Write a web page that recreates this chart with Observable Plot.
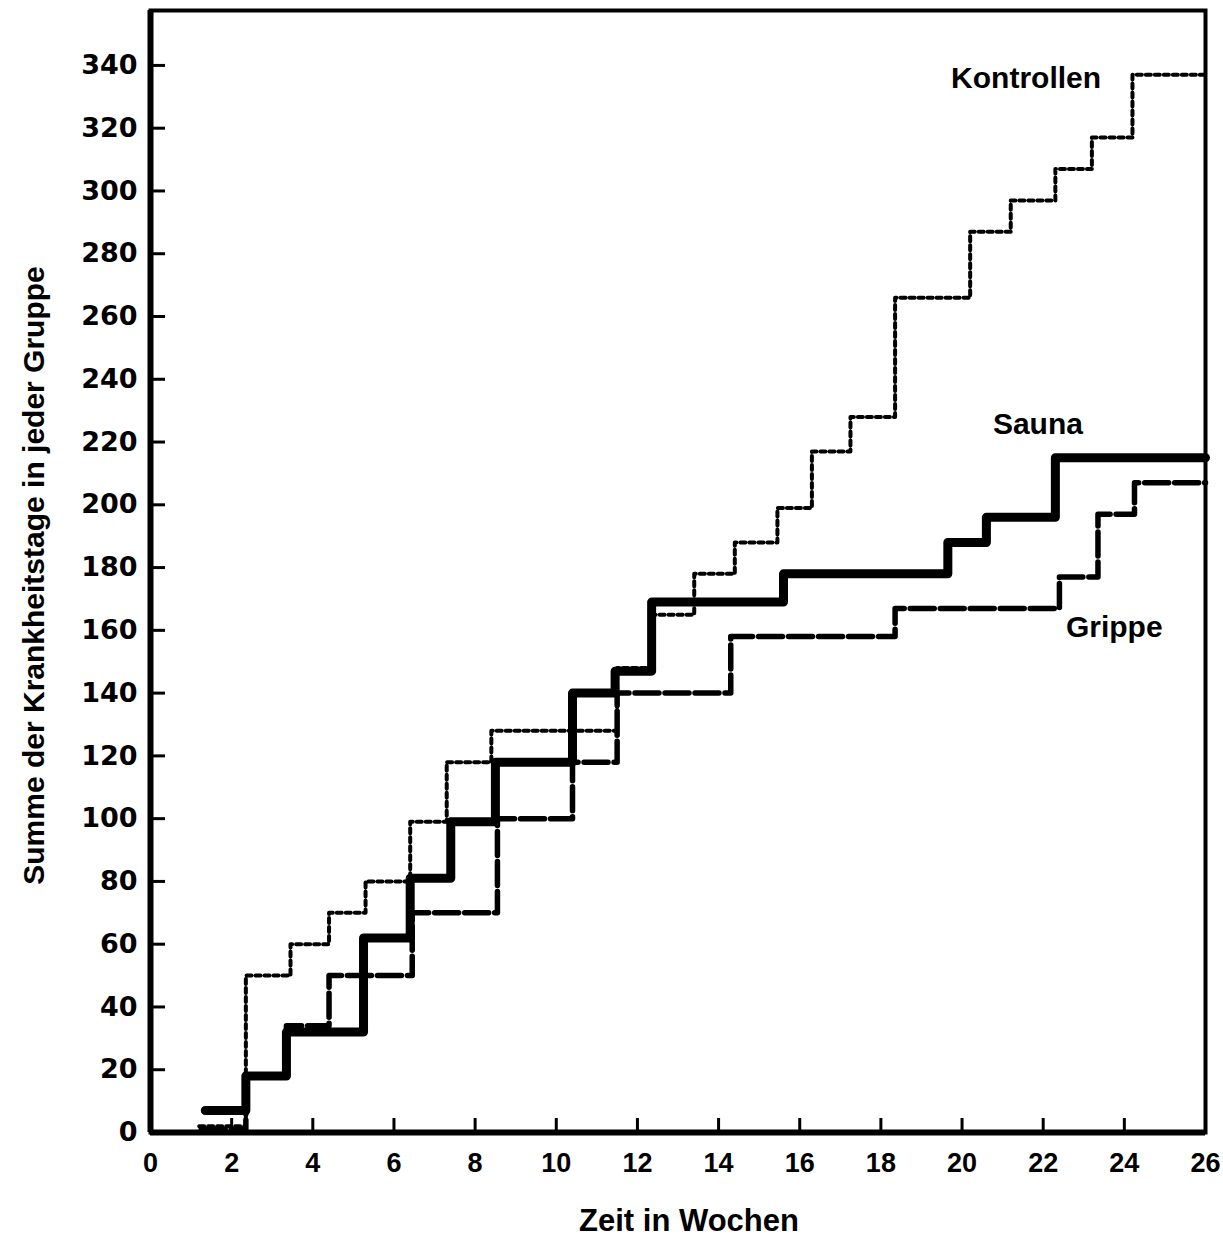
<!DOCTYPE html>
<html>
<head>
<meta charset="utf-8">
<script src="https://cdn.jsdelivr.net/npm/d3@7"></script>
<script src="https://cdn.jsdelivr.net/npm/@observablehq/plot@0.6"></script>
<style>
  html, body { margin: 0; padding: 0; background: #fff; }
  #chart svg { display: block; }
</style>
</head>
<body>
<div id="chart"></div>
<script>
// ---- data ----
const kontrollenWeeks  = [1.2, 2.35, 3.45, 4.4, 5.3, 6.4, 7.3, 8.4, 11.5, 12.4, 13.4, 14.4, 15.45, 16.3, 17.25, 18.35, 20.2, 21.2, 22.3, 23.2, 24.2, 26];
const kontrollenValues = [2,   50,   60,   70,  80,  99,  118, 128, 148,  165,  178,  188,  199,   217,  228,   266,   287,  297,  307,  317,  337,  337];

const saunaWeeks  = [1.35, 2.35, 3.35, 5.25, 6.4, 7.4, 8.5, 10.4, 11.45, 12.35, 15.6, 19.65, 20.6, 22.3, 26];
const saunaValues = [7,    18,   32,   62,   81,  99,  118, 140,  147,   169,   178,  188,   196,  215,  215];

const grippeWeeks  = [1.25, 2.35, 3.35, 4.4, 6.45, 8.55, 10.4, 11.5, 14.3, 18.35, 22.4, 23.35, 24.25, 26];
const grippeValues = [1,    18,   34,   50,  70,   100,  118,  140,  158,  167,   177,  197,   207,   207];

const xTicks = [0, 2, 4, 6, 8, 10, 12, 14, 16, 18, 20, 22, 24, 26];
const yTicks = [0, 20, 40, 60, 80, 100, 120, 140, 160, 180, 200, 220, 240, 260, 280, 300, 320, 340];

const seriesLabels = ["Kontrollen", "Sauna", "Grippe"];
const labelWeeks   = [19.73, 20.76, 22.56];
const labelValues  = [336, 225.5, 161];

const xTitle = "Zeit in Wochen";
const yTitle = "Summe der Krankheitstage in jeder Gruppe";

// ---- build tables ----
const toRows = (ws, vs) => ws.map((w, i) => ({week: w, value: vs[i]}));
const kontrollen = toRows(kontrollenWeeks, kontrollenValues);
const sauna = toRows(saunaWeeks, saunaValues);
const grippe = toRows(grippeWeeks, grippeValues);
const labels = seriesLabels.map((t, i) => ({text: t, week: labelWeeks[i], value: labelValues[i]}));

const chart = Plot.plot({
  width: 1223,
  height: 1242,
  marginLeft: 150,
  marginRight: 18,
  marginTop: 10,
  marginBottom: 110,
  style: {background: "#fff", color: "#000", fontFamily: "'Liberation Sans', Arial, sans-serif", fontWeight: "bold"},
  x: {domain: [0, 26]},
  y: {domain: [0, 357.5]},
  marks: [
    // inward tick marks
    Plot.axisX({ticks: xTicks, tickSize: 14, dy: -14, tickFormat: () => "", strokeWidth: 3, label: null}),
    Plot.axisY({ticks: yTicks, tickSize: 15, dx: 15, tickFormat: () => "", strokeWidth: 3, label: null}),
    // tick labels
    Plot.axisX({ticks: xTicks, tickSize: 0, tickPadding: 20, fontSize: 27, fontWeight: "bold", label: null,
                fontFamily: "'Liberation Sans', Arial, sans-serif"}),
    Plot.axisY({ticks: yTicks, tickSize: 0, tickPadding: 13, fontSize: 27, fontWeight: "bold", label: null,
                fontFamily: "'DejaVu Sans', sans-serif"}),
    // axis titles
    Plot.text([xTitle], {text: d => d, frameAnchor: "bottom", textAnchor: "middle", dy: 98, dx: 11, fontSize: 31, fontWeight: "bold"}),
    Plot.text([yTitle], {text: d => d, frameAnchor: "left", textAnchor: "middle", rotate: -90, dx: -116, dy: 4, fontSize: 30, fontWeight: "bold"}),
    // series
    Plot.line(kontrollen, {x: "week", y: "value", curve: "step-after", stroke: "#000", strokeWidth: 4, strokeDasharray: "5,4"}),
    Plot.line(grippe, {x: "week", y: "value", curve: "step-after", stroke: "#000", strokeWidth: 5.5, strokeDasharray: "24,6"}),
    Plot.line(sauna, {x: "week", y: "value", curve: "step-after", stroke: "#000", strokeWidth: 9}),
    // series labels
    Plot.text(labels, {x: "week", y: "value", text: "text", textAnchor: "start", fontSize: 30, fontWeight: "bold"}),
    // frame
    Plot.frame({stroke: "#000", strokeWidth: 4}),
    Plot.ruleX([0], {stroke: "#000", strokeWidth: 6}),
    Plot.ruleY([0], {stroke: "#000", strokeWidth: 6})
  ]
});
document.getElementById("chart").appendChild(chart);
</script>
</body>
</html>
